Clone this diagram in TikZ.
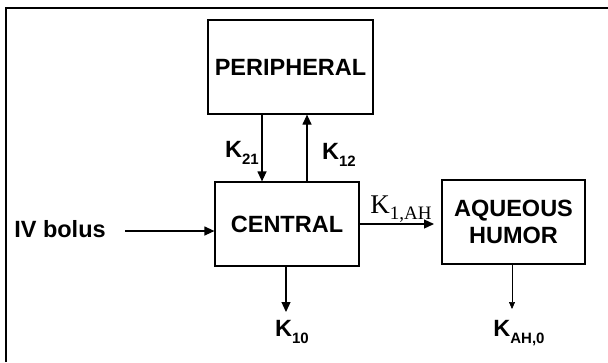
\documentclass[tikz,border=0pt]{standalone}
\usepackage{fontspec}
\setmainfont{Liberation Sans}
\newfontfamily\serifK{Liberation Serif}
\usetikzlibrary{arrows.meta}
\tikzset{
  box/.style={draw, line width=1.2bp, inner sep=0pt, font=\fontsize{23.5bp}{27bp}\selectfont\bfseries, align=center},
  lbl/.style={inner sep=0pt, font=\fontsize{23.5bp}{27bp}\selectfont\bfseries},
  arr/.style={line width=1.2bp, -{Triangle[length=10bp,width=9bp]}},
  thinarr/.style={line width=0.7bp, -{Triangle[length=7bp,width=6bp]}},
}
\newcommand{\subK}[1]{K\raisebox{-0.28em}{\fontsize{15bp}{15bp}\selectfont #1}}
\begin{document}
\begin{tikzpicture}[x=1bp,y=-1bp]
\useasboundingbox (0,0) rectangle (608,362);
\draw[line width=2bp] (6,362) -- (6,8) -- (608,8);
\node[box, minimum width=165bp, minimum height=94bp] (per) at (290.5,67) {PERIPHERAL};
\node[box, minimum width=144bp, minimum height=84bp] (cen) at (287,224) {CENTRAL};
\node[box, minimum width=143bp, minimum height=84bp] (aq) at (513.5,222) {AQUEOUS\\HUMOR};
\node[lbl] (iv) at (60,229) {IV bolus};
\node[lbl] (k21) at (242,153) {\subK{21}};
\node[lbl] (k12) at (339,155) {\subK{12}};
\node[inner sep=0pt, font=\fontsize{27bp}{30bp}\selectfont\serifK] (k1ah) at (401,209) {K\raisebox{-0.2em}{\fontsize{19bp}{19bp}\selectfont 1,AH}};
\node[lbl] (k10) at (292,332) {\subK{10}};
\node[lbl] (kah) at (519,333) {\subK{AH,0}};
\coordinate (ivs) at (125,231);
\coordinate (aqe) at (434,224);
\coordinate (k10e) at (286,312);
\coordinate (kahe) at (512,309);
\draw[arr] (ivs) -- (cen.west |- ivs);
\draw[arr] (per.south -| 262,0) -- (cen.north -| 262,0);
\draw[arr] (cen.north -| 307,0) -- (per.south -| 307,0);
\draw[arr] (cen.east |- aqe) -- (aqe);
\draw[arr] (cen.south -| k10e) -- (k10e);
\draw[thinarr] (aq.south -| kahe) -- (kahe);
\end{tikzpicture}
\end{document}
